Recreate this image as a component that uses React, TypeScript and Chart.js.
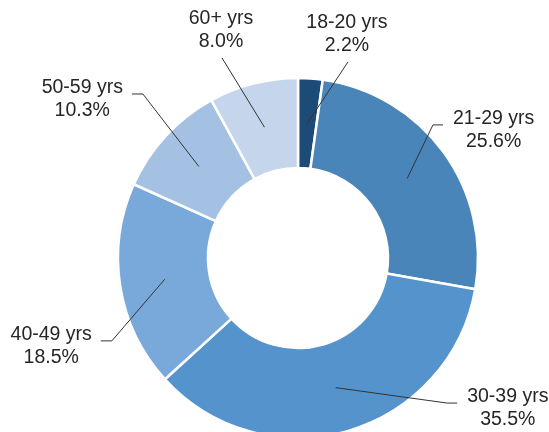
import React, { useEffect, useRef } from "react";
import { Chart, registerables } from "chart.js";

Chart.register(...registerables);

const categories = ["18-20 yrs", "21-29 yrs", "30-39 yrs", "40-49 yrs", "50-59 yrs", "60+ yrs"];
const shares = [2.2, 25.6, 35.5, 18.5, 10.3, 8.0];
const colors = ["#1d4b78", "#4a85b9", "#5593cd", "#79a8da", "#a4c1e4", "#c4d5ec"];

// label placement: elbow angle (deg clockwise from top), elbow radius (x outer radius), side
const labelLayout = [
  { deg: 14.3, rf: 1.124, side: "top" },
  { deg: 45.4, rf: 1.053, side: "right" },
  { deg: 134.2, rf: 1.156, side: "right" },
  { deg: 246, rf: 1.132, side: "left" },
  { deg: 316.6, rf: 1.254, side: "left" },
  { deg: 339.2, rf: 1.189, side: "top" },
];

const FONT = "19.5px 'Liberation Sans', Arial, sans-serif";
const LINE_H = 23;

const labelPlugin = {
  id: "leaderLabels",
  afterDatasetsDraw(chart: any) {
    const ctx = chart.ctx;
    const meta = chart.getDatasetMeta(0);
    ctx.save();
    ctx.font = FONT;
    meta.data.forEach((arc: any, i: number) => {
      const p = arc.getProps(["x", "y", "outerRadius"], true);
      const c = arc.getCenterPoint();
      const lay = labelLayout[i];
      const a = ((lay.deg - 90) * Math.PI) / 180;
      const ex = p.x + p.outerRadius * lay.rf * Math.cos(a);
      const ey = p.y + p.outerRadius * lay.rf * Math.sin(a);
      ctx.strokeStyle = "#333333";
      ctx.lineWidth = 1;
      ctx.beginPath();
      ctx.moveTo(c.x, c.y);
      ctx.lineTo(ex, ey);
      let tx = ex;
      let ty = ey;
      if (lay.side === "right") {
        ctx.lineTo(ex + 10, ey);
        tx = ex + 20;
        ty = ey + 5;
      } else if (lay.side === "left") {
        ctx.lineTo(ex - 11, ey);
        tx = ex - 20;
        ty = ey + 5;
      }
      ctx.stroke();
      ctx.fillStyle = "#262626";
      ctx.textBaseline = "middle";
      const l1 = categories[i];
      const l2 = shares[i].toFixed(1) + "%";
      ctx.textAlign = "center";
      if (lay.side === "top") {
        ctx.fillText(l1, tx - 1, ey - 39);
        ctx.fillText(l2, tx - 1, ey - 39 + LINE_H);
      } else {
        const w = Math.max(ctx.measureText(l1).width, ctx.measureText(l2).width);
        const cx = lay.side === "right" ? tx + w / 2 : tx - w / 2;
        ctx.fillText(l1, cx, ty - LINE_H / 2);
        ctx.fillText(l2, cx, ty + LINE_H / 2);
      }
    });
    ctx.restore();
  },
};

export default function App() {
  const ref = useRef<HTMLCanvasElement>(null);
  useEffect(() => {
    if (!ref.current) return;
    const chart = new Chart(ref.current, {
      type: "doughnut",
      data: {
        labels: categories,
        datasets: [
          {
            data: shares,
            backgroundColor: colors,
            borderColor: "#ffffff",
            borderWidth: 2.5,
          },
        ],
      },
      options: {
        responsive: false,
        animation: false,
        devicePixelRatio: 1,
        radius: 180,
        cutout: "50%",
        layout: { padding: { left: 47, top: 84, right: 0, bottom: 0 } },
        plugins: {
          legend: { display: false },
          tooltip: { enabled: false },
        },
      },
      plugins: [labelPlugin],
    });
    return () => chart.destroy();
  }, []);
  return (
    <div style={{ position: "absolute", left: 0, top: 0, width: 549, height: 432, background: "#fff" }}>
      <canvas ref={ref} width={549} height={432} />
    </div>
  );
}
